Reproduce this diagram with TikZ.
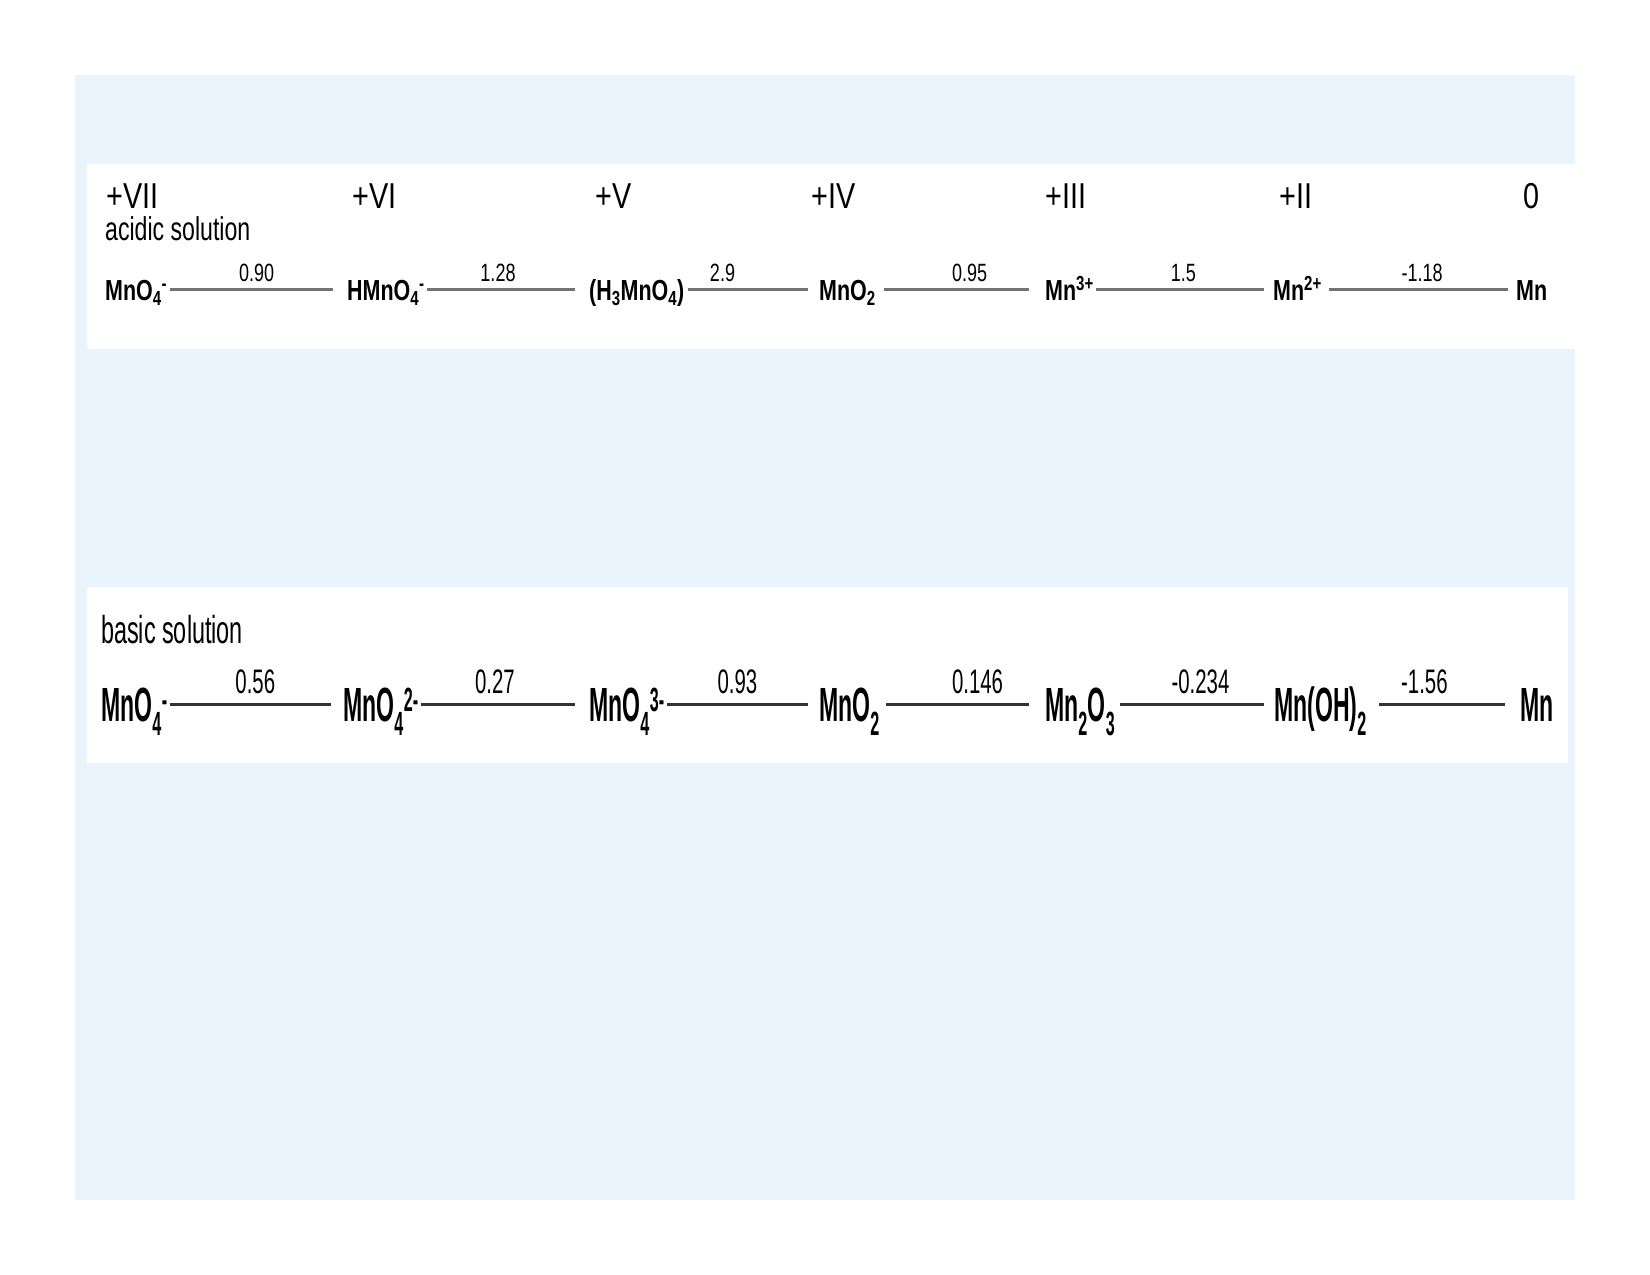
\documentclass[tikz,border=0pt]{standalone}
\usepackage{fontspec}
\setmainfont{Liberation Sans}
\newfontfamily\fOx[FakeStretch=0.8]{Liberation Sans}
\newfontfamily\fSolA[FakeStretch=0.7]{Liberation Sans}
\newfontfamily\fSolB[FakeStretch=0.6]{Liberation Sans}
\newfontfamily\fSpA[FakeStretch=0.74]{Liberation Sans}
\newfontfamily\fSpB[FakeStretch=0.48]{Liberation Sans}
\newfontfamily\fLbA[FakeStretch=0.72]{Liberation Sans}
\newfontfamily\fLbB[FakeStretch=0.6]{Liberation Sans}
\definecolor{bgblue}{RGB}{234,244,253}
\definecolor{lineA}{RGB}{115,115,115}
\definecolor{lineB}{RGB}{50,50,50}
\begin{document}
\begin{tikzpicture}[x=1pt,y=-1pt,
  ox/.style={anchor=base west,inner sep=0pt,font=\fOx\fontsize{36pt}{40pt}\selectfont},
  sol/.style={anchor=base west,inner sep=0pt},
  spA/.style={anchor=base west,inner sep=0pt,font=\fSpA\bfseries\fontsize{29pt}{32pt}\selectfont},
  spB/.style={anchor=base west,inner sep=0pt,font=\fSpB\bfseries\fontsize{48pt}{52pt}\selectfont},
  connA/.style={draw=lineA,line width=3pt},
  connB/.style={draw=lineB,line width=3pt},
  lbA/.style={above=6pt,inner sep=0pt,font=\fLbA\fontsize{25pt}{28pt}\selectfont},
  lbB/.style={above=9pt,inner sep=0pt,font=\fLbB\fontsize{34pt}{36pt}\selectfont}]
\useasboundingbox (0,0) rectangle (1650,1275);
\fill[bgblue] (75,75) rectangle (1575,1200);
\fill[white] (87,164) rectangle (1575,349);
\fill[white] (87,587) rectangle (1568,763);
% oxidation states
\node[ox] (o7) at (106,208) {+VII};
\node[ox] (o6) at (352,208) {+VI};
\node[ox] (o5) at (595,208) {+V};
\node[ox] (o4) at (811,208) {+IV};
\node[ox] (o3) at (1045,208) {+III};
\node[ox] (o2) at (1279,208) {+II};
\node[ox] (o0) at (1523,208) {0};
% acidic
\node[sol,font=\fSolA\fontsize{33pt}{36pt}\selectfont] (acid) at (105,240) {acidic solution};
\node[spA] (a1) at (105,300) {MnO\textsubscript{4}\textsuperscript{-}};
\node[spA] (a2) at (347,300) {HMnO\textsubscript{4}\textsuperscript{-}};
\node[spA] (a3) at (589,300) {(H\textsubscript{3}MnO\textsubscript{4})};
\node[spA] (a4) at (819,300) {MnO\textsubscript{2}};
\node[spA] (a5) at (1045,300) {Mn\textsuperscript{3+}};
\node[spA] (a6) at (1273,300) {Mn\textsuperscript{2+}};
\node[spA] (a7) at (1516,300) {Mn};
\draw[connA] ([xshift=3pt,yshift=11pt]a1.base east) -- ([xshift=-14pt,yshift=11pt]a2.base west) node[lbA,pos=0.53] (la1) {0.90};
\draw[connA] ([xshift=2pt,yshift=11pt]a2.base east) -- ([xshift=-14pt,yshift=11pt]a3.base west) node[lbA,pos=0.48] (la2) {1.28};
\draw[connA] ([xshift=3pt,yshift=11pt]a3.base east) -- ([xshift=-11pt,yshift=11pt]a4.base west) node[lbA,pos=0.29] (la3) {2.9};
\draw[connA] ([xshift=8pt,yshift=11pt]a4.base east) -- ([xshift=-16pt,yshift=11pt]a5.base west) node[lbA,pos=0.59] (la4) {0.95};
\draw[connA] ([xshift=2pt,yshift=11pt]a5.base east) -- ([xshift=-9pt,yshift=11pt]a6.base west) node[lbA,pos=0.52] (la5) {1.5};
\draw[connA] ([xshift=7pt,yshift=11pt]a6.base east) -- ([xshift=-8pt,yshift=11pt]a7.base west) node[lbA,pos=0.52] (la6) {-1.18};
% basic
\node[sol,font=\fSolB\fontsize{39pt}{42pt}\selectfont] (basic) at (101,643) {basic solution};
\node[spB] (b1) at (101,721) {MnO\textsubscript{4}\textsuperscript{-}};
\node[spB] (b2) at (343,721) {MnO\textsubscript{4}\textsuperscript{2-}};
\node[spB] (b3) at (589,721) {MnO\textsubscript{4}\textsuperscript{3-}};
\node[spB] (b4) at (819,721) {MnO\textsubscript{2}};
\node[spB] (b5) at (1045,721) {Mn\textsubscript{2}O\textsubscript{3}};
\node[spB] (b6) at (1274,721) {Mn(OH)\textsubscript{2}};
\node[spB] (b7) at (1520,721) {Mn};
\draw[connB] ([xshift=2pt,yshift=17pt]b1.base east) -- ([xshift=-12pt,yshift=17pt]b2.base west) node[lbB,pos=0.53] (lb1) {0.56};
\draw[connB] ([xshift=2pt,yshift=17pt]b2.base east) -- ([xshift=-14pt,yshift=17pt]b3.base west) node[lbB,pos=0.48] (lb2) {0.27};
\draw[connB] ([xshift=2pt,yshift=17pt]b3.base east) -- ([xshift=-11pt,yshift=17pt]b4.base west) node[lbB,pos=0.5] (lb3) {0.93};
\draw[connB] ([xshift=6pt,yshift=17pt]b4.base east) -- ([xshift=-16pt,yshift=17pt]b5.base west) node[lbB,pos=0.64] (lb4) {0.146};
\draw[connB] ([xshift=4pt,yshift=17pt]b5.base east) -- ([xshift=-10pt,yshift=17pt]b6.base west) node[lbB,pos=0.56] (lb5) {-0.234};
\draw[connB] ([xshift=12pt,yshift=17pt]b6.base east) -- ([xshift=-15pt,yshift=17pt]b7.base west) node[lbB,pos=0.36] (lb6) {-1.56};
\end{tikzpicture}
\end{document}
